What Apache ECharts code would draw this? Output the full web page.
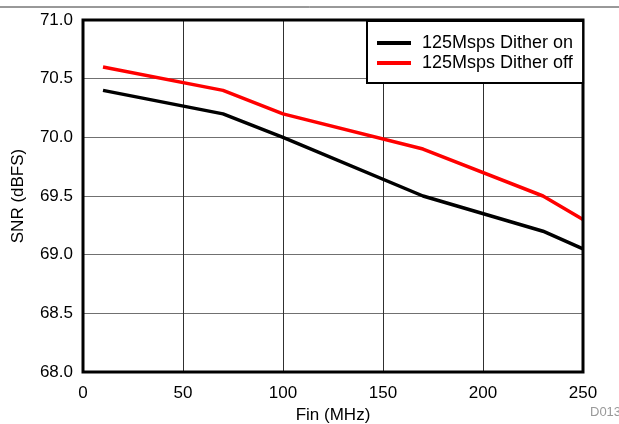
<!DOCTYPE html>
<html>
<head>
<meta charset="utf-8">
<script src="https://cdn.jsdelivr.net/npm/echarts@6/dist/echarts.min.js"></script>
<style>
html,body{margin:0;padding:0;background:#fff;}
#chart{width:619px;height:424px;}
</style>
</head>
<body>
<div id="chart"></div>
<script>
var finMHz = [10, 70, 100, 170, 230, 250];
var ditherOn = [70.4, 70.2, 70.0, 69.5, 69.2, 69.05];
var ditherOff = [70.6, 70.4, 70.2, 69.9, 69.5, 69.3];
var seriesNames = ['125Msps Dither on', '125Msps Dither off'];
var xTicks = [0, 50, 100, 150, 200, 250];
var yTicks = [68.0, 68.5, 69.0, 69.5, 70.0, 70.5, 71.0];

var FONT = '"Liberation Sans", Arial, sans-serif';
function pairs(xs, ys){ return xs.map(function(x,i){ return [x, ys[i]]; }); }

var chart = echarts.init(document.getElementById('chart'), null, {renderer:'canvas'});
chart.setOption({
  animation: false,
  backgroundColor: '#fff',
  textStyle: {fontFamily: FONT},
  grid: {left: 83, right: 36, top: 20, bottom: 52, containLabel: false, outerBoundsMode: 'none',
         show: true, borderColor: '#000', borderWidth: 3, z: 3},
  xAxis: {
    type: 'value', min: xTicks[0], max: xTicks[xTicks.length-1], interval: 50,
    name: 'Fin (MHz)', nameLocation: 'middle', nameGap: 32,
    nameTextStyle: {fontSize: 17, color: '#000', fontFamily: FONT},
    axisLine: {show: false}, axisTick: {show: false},
    axisLabel: {fontSize: 17, color: '#000', margin: 13, fontFamily: FONT},
    splitLine: {show: true, lineStyle: {color: '#303030', width: 1}}
  },
  yAxis: {
    type: 'value', min: yTicks[0], max: yTicks[yTicks.length-1], interval: 0.5,
    name: 'SNR (dBFS)', nameLocation: 'middle', nameGap: 56, nameRotate: 90,
    nameTextStyle: {fontSize: 17, color: '#000', fontFamily: FONT},
    axisLine: {show: false}, axisTick: {show: false},
    axisLabel: {fontSize: 17, color: '#000', margin: 10, fontFamily: FONT,
      formatter: function(v){ return v.toFixed(1); }},
    splitLine: {show: true, lineStyle: {color: '#707070', width: 1}}
  },
  legend: {
    left: 367, top: 21, orient: 'vertical',
    padding: [13, 10, 11, 10], itemGap: 2,
    itemWidth: 34, itemHeight: 4, itemStyle: {borderWidth: 0},
    icon: 'rect',
    backgroundColor: '#fff', borderColor: '#000', borderWidth: 2,
    textStyle: {fontSize: 18, color: '#000', fontFamily: FONT, padding: [0,0,0,6]},
    data: seriesNames
  },
  graphic: [
    {type: 'line', shape: {x1: 0, y1: 7, x2: 619, y2: 7}, style: {stroke: '#333', lineWidth: 1}},
    {type: 'text', left: 590, top: 406, style: {text: 'D013', fill: '#999', font: '13px ' + FONT}}
  ],
  series: [
    {name: seriesNames[0], type: 'line', data: pairs(finMHz, ditherOn), showSymbol: false,
     lineStyle: {color: '#000', width: 3.5}, itemStyle: {color: '#000'}, z: 2},
    {name: seriesNames[1], type: 'line', data: pairs(finMHz, ditherOff), showSymbol: false,
     lineStyle: {color: '#ff0000', width: 3.5}, itemStyle: {color: '#ff0000'}, z: 2}
  ]
});
</script>
</body>
</html>
